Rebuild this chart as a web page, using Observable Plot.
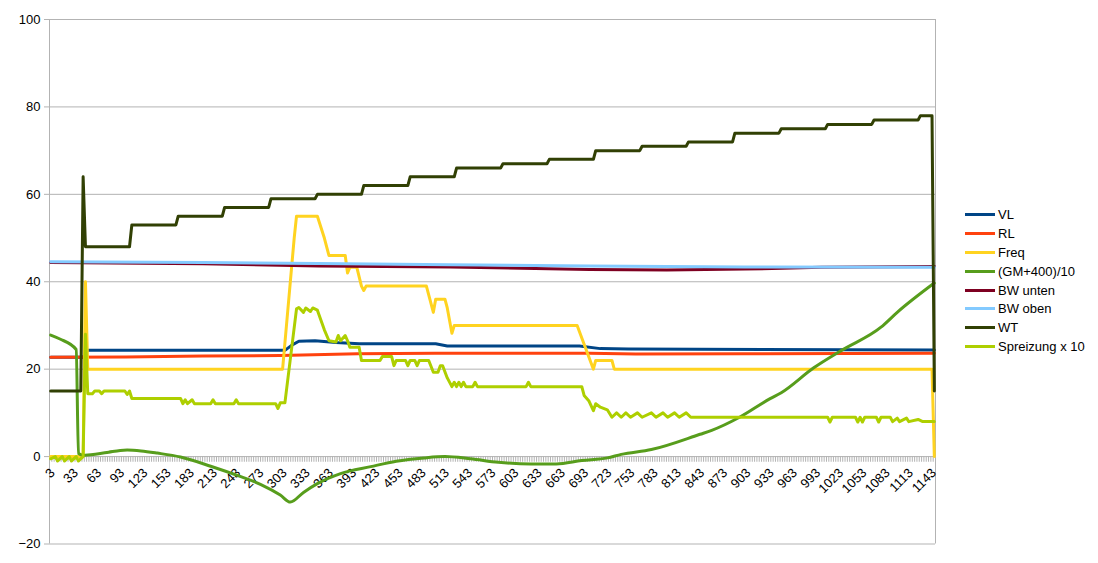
<!DOCTYPE html>
<html><head><meta charset="utf-8">
<script src="https://cdn.jsdelivr.net/npm/d3@7"></script>
<script src="https://cdn.jsdelivr.net/npm/@observablehq/plot@0.6"></script>
<style>
body{margin:0;background:#fff;font-family:"Liberation Sans",Arial,sans-serif;}
#wrap{position:relative;width:1098px;height:563px;}
#legend{position:absolute;left:965px;top:205.6px;}
.row{display:flex;align-items:center;height:18.8px;font-size:13px;color:#000;white-space:nowrap;}
.sw{width:30px;height:3px;margin-right:3px;flex:none;}
</style></head><body><div id="wrap"><div id="legend"></div></div><script>
// category axis: rows 3, 6, 9 ... 1146
const categories = d3.range(3, 1147, 3);
const xTickLabels = [3,33,63,93,123,153,183,213,243,273,303,333,363,393,423,453,483,513,543,573,603,633,663,693,723,753,783,813,843,873,903,933,963,993,1023,1053,1083,1113,1143];
const yTicks = [-20,0,20,40,60,80,100];

const seriesNames = ["VL","RL","Freq","(GM+400)/10","BW unten","BW oben","WT","Spreizung x 10"];
const seriesColors = ["#004586","#ff420e","#ffd320","#579d1c","#7e0021","#83caff","#314004","#aecf00"];

const vl = [[3,22.7],[45,22.7],[51,24.3],[306,24.3],[315,25.5],[324,26.4],[345,26.5],[372,26.1],[402,25.8],[501,25.8],[516,25.3],[687,25.3],[714,24.7],[750,24.6],[1146,24.4]];
const rl = [[3,22.7],[100,22.8],[200,23.0],[300,23.1],[400,23.5],[500,23.65],[700,23.65],[760,23.45],[900,23.5],[1146,23.65]];
const freq = [[3,0],[45,0],[48,40],[51,20],[303,20],[318,50],[321,55],[348,55],[357,50],[363,46],[384,46],[387,42],[390,43.3],[399,43.3],[405,39],[408,38],[411,39],[489,39],[492,37],[498,33],[501,36],[513,36],[516,34],[522,28.2],[525,30],[684,30],[705,20],[708,22],[729,22],[732,20],[1143,20],[1146,0]];
const gm = [[3,27.8],[15,26.9],[36,24.5],[39,0.7],[45,0.3],[51,0.35],[63,0.6],[78,1.0],[93,1.4],[102,1.5],[120,1.3],[141,0.8],[171,-0.1],[210,-2.2],[249,-4.6],[275,-6.4],[300,-8.8],[313,-10.4],[330,-8.2],[348,-6.2],[378,-3.9],[417,-2.3],[450,-1.05],[486,-0.3],[513,0],[546,-0.5],[582,-1.3],[624,-1.7],[657,-1.7],[690,-0.9],[723,-0.3],[741,0.5],[780,1.6],[843,5.1],[858,6.0],[894,9.0],[933,13.2],[948,14.6],[990,20.3],[1026,24.3],[1077,29.6],[1098,33.0],[1146,39.7]];
const bwUnten = [[3,44.4],[200,44.1],[350,43.6],[520,43.4],[700,42.8],[800,42.7],[900,42.9],[1000,43.3],[1146,43.5]];
const bwOben = [[3,44.6],[200,44.4],[350,44.2],[520,43.9],[700,43.6],[900,43.4],[1146,43.3]];
const wt = [[3,15],[42,15],[45,64],[48,48],[105,48],[108,53],[165,53],[168,55],[225,55],[228,57],[285,57],[288,59],[345,59],[348,60],[405,60],[408,62],[465,62],[468,64],[525,64],[528,66],[585,66],[588,67],[645,67],[648,68],[705,68],[708,70],[765,70],[768,71],[825,71],[828,72],[885,72],[888,74],[945,74],[948,75],[1005,75],[1008,76],[1065,76],[1068,77],[1125,77],[1128,78],[1143,78],[1146,15]];
const spreizung = [[3,-0.5],[9,0],[12,-1],[18,0],[21,-1],[27,0],[30,-1],[36,0],[39,-1],[45,0],[48,28],[51,14.4],[57,14.4],[60,15],[66,15],[69,14.4],[72,15],[99,15],[102,14.2],[105,15],[108,13.3],[171,13.3],[174,12.1],[177,13],[180,12.1],[186,13],[189,12.1],[210,12.1],[213,13],[216,12.1],[240,12.1],[243,13],[246,12.1],[294,12.1],[297,11],[300,12.3],[306,12.3],[321,33.8],[324,34.1],[330,33],[333,34],[339,33.2],[342,34],[348,33.5],[357,29],[363,26.5],[372,26.2],[375,27.7],[378,26.5],[384,27.7],[387,26.5],[390,25],[402,25],[405,22],[429,22],[432,22.9],[444,22.9],[447,20.8],[450,22],[462,22],[465,20.8],[468,22],[474,22],[477,20.8],[480,22],[492,22],[498,19.3],[504,19.3],[507,20.8],[510,20.8],[516,18],[522,16],[525,17],[528,16],[531,17],[534,16],[537,17],[540,16],[549,16],[552,17],[555,16],[618,16],[621,17],[624,16],[690,16],[693,14],[699,12.8],[705,10.5],[708,12.1],[714,11.3],[723,10.7],[729,9],[735,10],[741,9],[747,10],[753,9],[762,10],[768,9],[780,10],[786,9],[795,10],[801,9],[810,10],[816,9],[825,10],[831,9],[840,9],[1008,9],[1011,7.9],[1014,9],[1044,9],[1047,7.9],[1050,9],[1053,7.9],[1056,9],[1071,9],[1074,7.9],[1077,9],[1089,9],[1092,8],[1098,8.8],[1101,8],[1110,8.8],[1113,8],[1125,8.5],[1131,8],[1146,8]];

const seriesData = [vl, rl, freq, gm, bwUnten, bwOben, wt, spreizung];

const lineMarks = seriesData.map((s, i) => Plot.line(s, {
  x: d => d[0], y: d => d[1], stroke: seriesColors[i], strokeWidth: 3,
  curve: i === 3 ? "monotone-x" : "linear"
}));

const plot = Plot.plot({
  width: 1098, height: 563,
  marginLeft: 49, marginRight: 163, marginTop: 19, marginBottom: 19.5,
  x: {domain: [1.5, 1147.5], axis: null},
  y: {domain: [-20, 100], axis: null},
  style: {fontFamily: "'Liberation Sans', Arial, sans-serif", fontSize: "13px", background: "white", color: "#000"},
  marks: [
    Plot.ruleY(yTicks, {stroke: "#b3b3b3"}),
    Plot.ruleX([1.5, 1147.5], {stroke: "#b3b3b3"}),
    Plot.ruleX(categories, {x: d => d - 1.5, y1: 0, y2: -1.3, stroke: "#b3b3b3"}),
    Plot.axisY(yTicks, {tickSize: 5, tickPadding: 4, stroke: "#b3b3b3", fill: "#000", fontSize: 13, label: null}),
    Plot.text(xTickLabels, {x: d => d, y: 0, text: d => String(d), rotate: -45, textAnchor: "end", dx: 2, dy: 14, fontSize: 13, fill: "#000"}),
    ...lineMarks
  ]
});
const wrap = document.getElementById("wrap");
wrap.insertBefore(plot, wrap.firstChild);

const legend = document.getElementById("legend");
seriesNames.forEach((n, i) => {
  const row = document.createElement("div");
  row.className = "row";
  const sw = document.createElement("div");
  sw.className = "sw";
  sw.style.background = seriesColors[i];
  const t = document.createElement("span");
  t.textContent = n;
  row.appendChild(sw); row.appendChild(t);
  legend.appendChild(row);
});
</script></body></html>
